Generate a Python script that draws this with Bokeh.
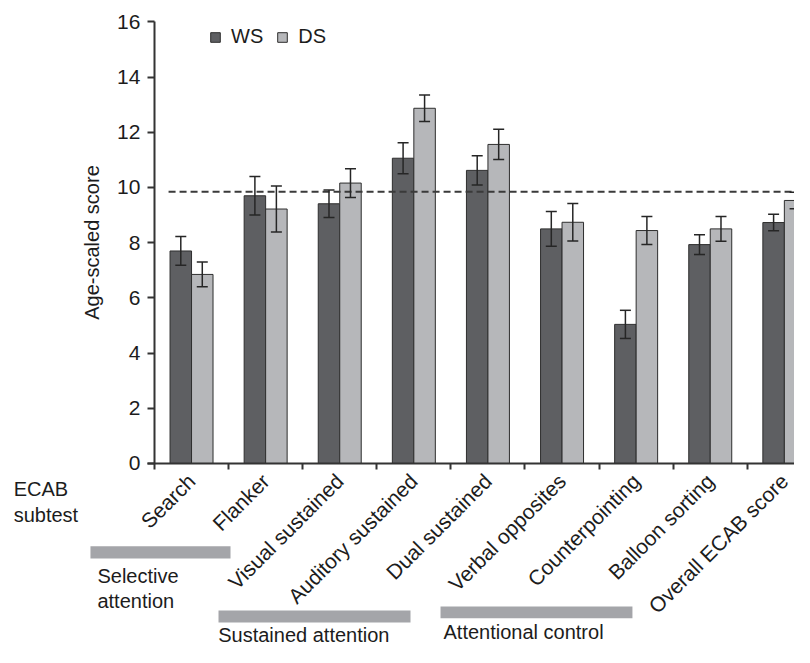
import math
from bokeh.plotting import figure
from bokeh.models import (Range1d, LinearAxis, FixedTicker, ColumnDataSource,
                          Whisker, TeeHead, Legend, LegendItem)
from bokeh.core.properties import value
from bokeh.embed import file_html
from bokeh.resources import INLINE

# ---------------- data ----------------
categories = ["Search", "Flanker", "Visual sustained", "Auditory sustained",
              "Dual sustained", "Verbal opposites", "Counterpointing",
              "Balloon sorting", "Overall ECAB score"]
ws_mean = [7.70, 9.70, 9.41, 11.06, 10.62, 8.50, 5.04, 7.93, 8.73]
ws_err = [0.52, 0.70, 0.50, 0.56, 0.53, 0.63, 0.51, 0.36, 0.30]
ds_mean = [6.85, 9.22, 10.16, 12.87, 11.56, 8.74, 8.44, 8.50, 9.53]
ds_err = [0.45, 0.83, 0.52, 0.48, 0.55, 0.68, 0.51, 0.45, 0.30]
norm_score = 9.85
y_ticks = [0, 2, 4, 6, 8, 10, 12, 14, 16]
group_names = ["Selective\nattention", "Sustained attention", "Attentional control"]
series_names = ["WS", "DS"]
side_label = "ECAB\nsubtest"

# ---------------- layout ----------------
FONT = "Liberation Sans"
FS = "20px"
FS_TICK = "21px"
TXT = "#1c1c1c"
AX = "#333333"
WS_COL = "#5e5f62"
DS_COL = "#b6b7ba"
EDGE = "#2e2e2e"
GRP_COL = "#a4a5a9"
BAR_W = 0.29
W, H = 794, 647
X_RANGE = (-2.578, 8.137)
Y_RANGE = (-6.667, 16.775)

# group bars: (left, right, bottom, top) in data units; text anchor (x, y)
group_bars = [(-1.364, 0.526, -3.44, -3.00),
              (0.364, 2.955, -5.76, -5.33),
              (3.36, 5.95, -5.61, -5.18)]
group_text_pos = [(-1.27, -3.66), (0.36, -5.80), (3.40, -5.69)]
side_label_pos = (-2.40, -0.52)
norm_x_start = -0.31

p = figure(width=W, height=H, x_range=Range1d(*X_RANGE), y_range=Range1d(*Y_RANGE),
           output_backend="svg", toolbar_location=None,
           x_axis_location=None, y_axis_location=None,
           min_border=0, outline_line_color=None)
p.xgrid.grid_line_color = None
p.ygrid.grid_line_color = None
p.background_fill_color = "white"

idx = list(range(len(categories)))
src = ColumnDataSource(dict(
    ws_x=[i - BAR_W / 2 for i in idx], ds_x=[i + BAR_W / 2 for i in idx],
    ws=ws_mean, ds=ds_mean,
    ws_up=[m + e for m, e in zip(ws_mean, ws_err)],
    ws_lo=[m - e for m, e in zip(ws_mean, ws_err)],
    ds_up=[m + e for m, e in zip(ds_mean, ds_err)],
    ds_lo=[m - e for m, e in zip(ds_mean, ds_err)],
))

r_ws = p.vbar(x="ws_x", top="ws", bottom=0, width=BAR_W, source=src,
              fill_color=WS_COL, line_color=EDGE, line_width=1)
r_ds = p.vbar(x="ds_x", top="ds", bottom=0, width=BAR_W, source=src,
              fill_color=DS_COL, line_color=EDGE, line_width=1)

# normative reference line
p.ray(x=[norm_x_start], y=[norm_score], length=0, angle=0,
      line_color="#3a3a3a", line_width=2, line_dash="7 4")

for base, up, lo in (("ws_x", "ws_up", "ws_lo"), ("ds_x", "ds_up", "ds_lo")):
    p.add_layout(Whisker(source=src, base=base, upper=up, lower=lo, level="overlay",
                         line_color="#262626", line_width=1.5,
                         upper_head=TeeHead(size=11, line_color="#262626", line_width=1.5),
                         lower_head=TeeHead(size=11, line_color="#262626", line_width=1.5)))

# y axis
yax = LinearAxis(ticker=FixedTicker(ticks=y_ticks), fixed_location=-0.5, bounds=(0, 16),
                 axis_label="Age-scaled score")
yax.axis_line_color = AX
yax.axis_line_width = 2
yax.major_tick_line_color = AX
yax.major_tick_line_width = 2
yax.major_tick_out = 7
yax.major_tick_in = 0
yax.minor_tick_line_color = None
yax.major_label_standoff = 7
yax.major_label_text_font = FONT
yax.major_label_text_font_size = FS_TICK
yax.major_label_text_color = TXT
yax.axis_label_text_font = FONT
yax.axis_label_text_font_size = FS
yax.axis_label_text_font_style = "normal"
yax.axis_label_text_color = TXT
yax.axis_label_standoff = 11
p.add_layout(yax, "left")

# x axis
xax = LinearAxis(ticker=FixedTicker(ticks=idx, minor_ticks=[i - 0.5 for i in range(len(categories) + 1)]),
                 fixed_location=0, bounds=(-0.594, X_RANGE[1]))
xax.major_label_overrides = {i: c for i, c in zip(idx, categories)}
xax.major_label_orientation = math.pi / 4
xax.axis_line_color = AX
xax.axis_line_width = 2
xax.major_tick_line_color = None
xax.major_tick_out = 0
xax.major_tick_in = 0
xax.minor_tick_line_color = AX
xax.minor_tick_line_width = 2
xax.minor_tick_out = 6
xax.minor_tick_in = 0
xax.major_label_standoff = 8
xax.major_label_text_font = FONT
xax.major_label_text_font_size = FS_TICK
xax.major_label_text_color = TXT
p.add_layout(xax, "below")

# subtest group bars and labels
p.quad(left=[g[0] for g in group_bars], right=[g[1] for g in group_bars],
       bottom=[g[2] for g in group_bars], top=[g[3] for g in group_bars],
       fill_color=GRP_COL, line_color=None)
p.text(x=[t[0] for t in group_text_pos], y=[t[1] for t in group_text_pos], text=group_names,
       text_font=value(FONT), text_font_size=FS, text_color=TXT,
       text_align="left", text_baseline="top", text_line_height=1.15)
p.text(x=[side_label_pos[0]], y=[side_label_pos[1]], text=[side_label],
       text_font=value(FONT), text_font_size=FS, text_color=TXT,
       text_align="left", text_baseline="top", text_line_height=1.2)

legend = Legend(items=[LegendItem(label=series_names[0], renderers=[r_ws]),
                       LegendItem(label=series_names[1], renderers=[r_ds])],
                orientation="horizontal", location=(209, 599),
                padding=0, margin=0, spacing=13, label_standoff=10,
                glyph_width=12, glyph_height=12, label_height=12,
                label_text_font=FONT, label_text_font_size=FS, label_text_color=TXT,
                border_line_color=None, background_fill_alpha=0)
p.add_layout(legend, "center")

open("out.html", "w").write(file_html(p, INLINE))
